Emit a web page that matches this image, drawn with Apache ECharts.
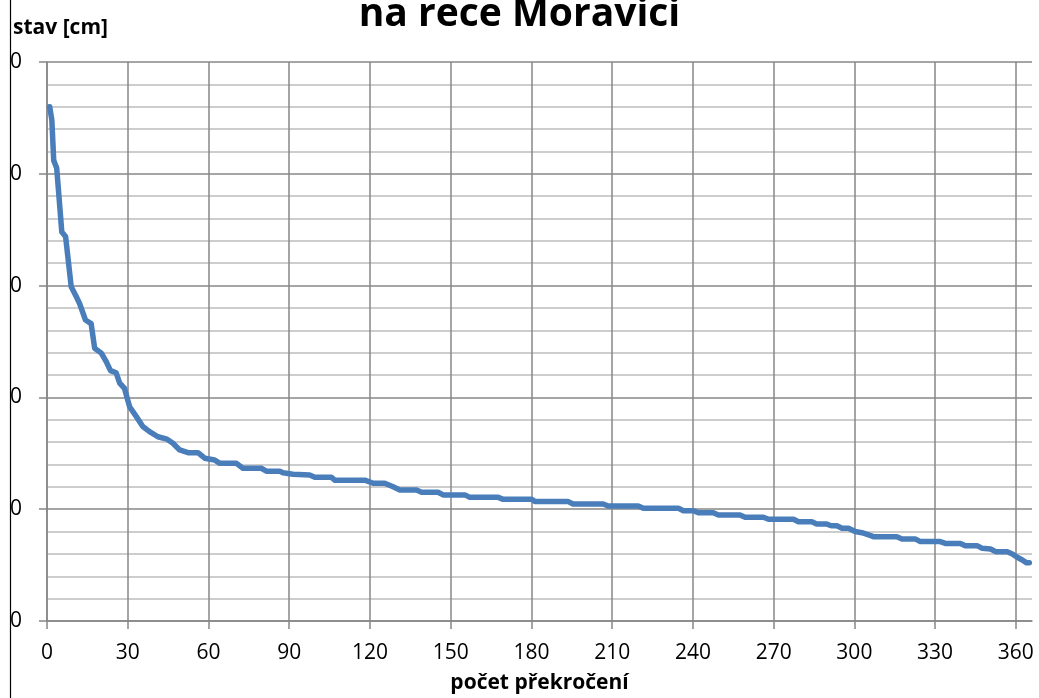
<!doctype html>
<html>
<head>
<meta charset="UTF-8">
<title>stav</title>
<style>
  html, body { margin: 0; padding: 0; background: #fff; }
  #main { width: 1039px; height: 698px; }
</style>
</head>
<body>
<div id="main"></div>
<script src="https://cdn.jsdelivr.net/npm/echarts@6/dist/echarts.min.js"></script>
<script>
// den v roce (pocet prekroceni) a stav [cm]
var days = [1, 1.8, 2.5, 3.6, 5.5, 6.9, 9, 10.9, 12.1, 14.3, 16.4, 17.7, 20.2, 22, 23.6, 25.7, 27, 28.8,
  30.7, 33.2, 35.6, 38.1, 41.2, 44.6, 46.8, 49.3, 52.4, 56.1, 58.6, 62.3, 64.2, 70.4, 72.8, 79.7,
  81.5, 86.5, 87.7, 91.4, 97.6, 99.5, 105.7, 106.9, 118.1, 121.2, 125.5, 128.6, 131.1, 137.3, 139.2,
  145.3, 147.2, 155.3, 157.1, 167.7, 169.5, 180.1, 181.3, 193.7, 195.5, 206.7, 208.5, 219.7, 221.6,
  234.6, 236.5, 240.2, 242, 247.6, 249.5, 257.5, 259.4, 266.2, 268.1, 277.4, 279.2, 284.2, 286,
  289.5, 291.4, 293.5, 295.4, 297.8, 300.3, 302.8, 305.3, 307.1, 315.8, 317.7, 322.6, 324.5, 331.9,
  333.8, 339.4, 341.2, 345.6, 347.5, 350.6, 352.5, 356.8, 358.7, 360.5, 362.4, 364, 365];
var levels = [230, 224, 206, 202.6, 174, 172, 149.5, 145, 142, 134.6, 133, 122, 119.8, 116, 112, 111, 106.4, 104,
  95.8, 91.4, 87, 84.7, 82.4, 81.3, 79.5, 76.5, 75.3, 75.3, 72.8, 72, 70.5, 70.5, 68.3, 68.3,
  67, 67, 66.3, 65.6, 65.3, 64.3, 64.3, 63, 63, 61.6, 61.6, 60, 58.6, 58.6, 57.6,
  57.6, 56.4, 56.4, 55.3, 55.3, 54.4, 54.4, 53.4, 53.4, 52.3, 52.3, 51.4, 51.4, 50.4,
  50.4, 49.3, 49.3, 48.4, 48.4, 47.4, 47.4, 46.4, 46.4, 45.5, 45.5, 44.4, 44.4, 43.4,
  43.4, 42.6, 42.6, 41.5, 41.5, 40, 39.5, 38.5, 37.7, 37.7, 36.7, 36.7, 35.5, 35.5,
  34.7, 34.7, 33.7, 33.7, 32.5, 32.2, 31, 31, 30, 28.5, 27.3, 26, 26];

var titleText = 'na rece Moravici';
var yName = 'stav [cm]';
var xName = 'počet překročení';

var points = days.map(function (d, i) { return [d, levels[i]]; });

var chart = echarts.init(document.getElementById('main'));
chart.setOption({
  animation: false,
  title: [
    { text: titleText, left: 'center', top: -10,
      textStyle: { fontFamily: 'Open Sans', fontWeight: 'bold', fontSize: 39, color: '#000' } },
    { text: yName, left: 8, top: 13,
      textStyle: { fontFamily: 'Open Sans', fontWeight: 'bold', fontSize: 21, color: '#000' } }
  ],
  grid: { left: 47, right: 7, top: 62, bottom: 77, containLabel: false, outerBoundsMode: 'none' },
  xAxis: {
    type: 'value', min: 0, max: 366, interval: 30,
    name: xName, nameLocation: 'middle', nameGap: 52,
    nameTextStyle: { fontFamily: 'Open Sans', fontWeight: 'bold', fontSize: 21, color: '#000' },
    axisLine: { lineStyle: { color: '#878787', width: 1.5 } },
    axisTick: { show: true, length: 8, lineStyle: { color: '#878787', width: 1.5 } },
    axisLabel: { showMaxLabel: false, margin: 22, fontFamily: 'Open Sans', fontSize: 21, color: '#000' },
    splitLine: { show: true, showMaxLine: false, lineStyle: { color: '#878787', width: 1.5 } }
  },
  yAxis: {
    type: 'value', min: 0, max: 250, interval: 50,
    axisLine: { show: true, lineStyle: { color: '#878787', width: 1.5 } },
    axisTick: { show: true, length: 8, lineStyle: { color: '#878787', width: 1.5 } },
    axisLabel: { margin: 25, fontFamily: 'Open Sans', fontSize: 21, color: '#000' },
    splitLine: { show: true, lineStyle: { color: '#878787', width: 1.5 } },
    minorTick: { show: false, splitNumber: 5 },
    minorSplitLine: { show: true, lineStyle: { color: '#bdbdbd', width: 1.5 } }
  },
  series: [{
    type: 'line',
    data: points,
    showSymbol: false,
    lineStyle: { color: '#4a7ebb', width: 5.5, cap: 'round', join: 'round' }
  }],
  graphic: [
    { type: 'rect', left: 0, top: 0, z: 100, shape: { width: 10, height: 698 }, style: { fill: '#fff' } },
    { type: 'line', z: 101, shape: { x1: 10.5, y1: 0, x2: 10.5, y2: 698 }, style: { stroke: '#000', lineWidth: 1.2 } }
  ]
});
</script>
</body>
</html>
